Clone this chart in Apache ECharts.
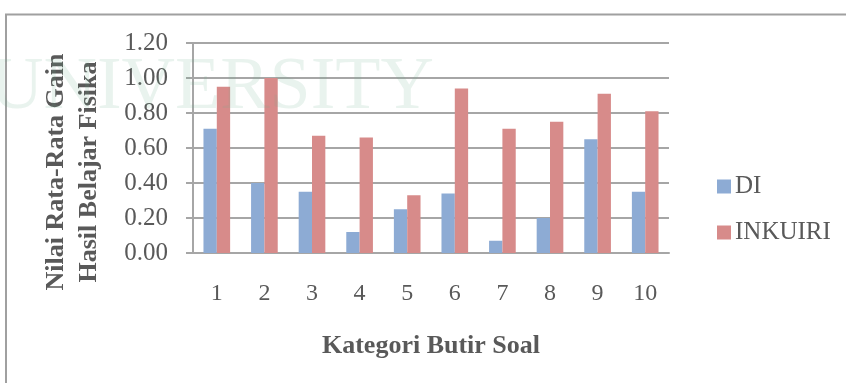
<!DOCTYPE html>
<html>
<head>
<meta charset="utf-8">
<script src="https://cdn.jsdelivr.net/npm/echarts@6/dist/echarts.min.js"></script>
<style>
  html, body { margin: 0; padding: 0; background: #fff; }
  #chart { width: 846px; height: 383px; }
</style>
</head>
<body>
<div id="chart"></div>
<script>
// Item categories (butir soal) and mean gain per learning model
const categories = ['1', '2', '3', '4', '5', '6', '7', '8', '9', '10'];
const seriesNames = ['DI', 'INKUIRI'];
const diValues = [0.71, 0.40, 0.35, 0.12, 0.25, 0.34, 0.07, 0.20, 0.65, 0.35];
const inkuiriValues = [0.95, 1.00, 0.67, 0.66, 0.33, 0.94, 0.71, 0.75, 0.91, 0.81];

const yTitle = 'Nilai Rata-Rata Gain\nHasil Belajar Fisika';
const xTitle = 'Kategori Butir Soal';

const serif = '"Liberation Serif", "Times New Roman", serif';
const textGray = '#595959';
const lineGray = '#A6A6A6';
const stampFill = 'rgba(110, 175, 140, 0.15)';

const chart = echarts.init(document.getElementById('chart'), null, { renderer: 'canvas' });

chart.setOption({
  animation: false,
  backgroundColor: '#ffffff',
  textStyle: { fontFamily: serif },
  grid: { left: 193, top: 43, width: 476, height: 210, containLabel: false },
  legend: {
    orient: 'vertical',
    left: 712,
    top: 169,
    itemWidth: 14,
    itemHeight: 14,
    itemGap: 21,
    icon: 'rect',
    data: seriesNames,
    textStyle: { fontFamily: serif, fontSize: 25, color: textGray, lineHeight: 24, padding: [0, 0, 0, -1] }
  },
  xAxis: {
    type: 'category',
    data: categories,
    boundaryGap: true,
    axisLine: { show: true, lineStyle: { color: lineGray, width: 2 } },
    axisTick: { show: false },
    axisLabel: { fontFamily: serif, fontSize: 24, color: textGray, margin: 29 },
    name: xTitle,
    nameLocation: 'middle',
    nameGap: 80,
    nameTextStyle: { fontFamily: serif, fontSize: 26, fontWeight: 'bold', color: textGray }
  },
  yAxis: {
    type: 'value',
    min: 0,
    max: 1.2,
    interval: 0.2,
    axisLine: { show: true, lineStyle: { color: lineGray, width: 2 } },
    axisTick: { show: true, length: 7, lineStyle: { color: lineGray, width: 2 } },
    splitLine: { show: true, lineStyle: { color: lineGray, width: 2 } },
    axisLabel: {
      fontFamily: serif, fontSize: 25, color: textGray, margin: 25,
      formatter: v => v.toFixed(2)
    },
    name: yTitle,
    nameLocation: 'middle',
    nameRotate: 90,
    nameGap: 87,
    nameTextStyle: {
      fontFamily: serif, fontSize: 26, fontWeight: 'bold', color: textGray,
      lineHeight: 33, align: 'center', padding: [0, 48, 0, 0]
    }
  },
  series: [
    {
      name: seriesNames[0],
      type: 'bar',
      data: diValues,
      barGap: '0%',
      barCategoryGap: '44%',
      itemStyle: { color: '#8DABD4' }
    },
    {
      name: seriesNames[1],
      type: 'bar',
      data: inkuiriValues,
      barGap: '0%',
      barCategoryGap: '44%',
      itemStyle: { color: '#D78B8A' }
    }
  ],
  graphic: [
    {
      // outer chart frame
      type: 'rect',
      z: 0,
      shape: { x: 6, y: 14.5, width: 900, height: 400 },
      style: { fill: 'none', stroke: '#A0A0A0', lineWidth: 2 }
    },
    {
      // faint background stamp
      type: 'text',
      z: 100,
      silent: true,
      x: -10,
      y: 52,
      style: {
        text: 'UNIVERSITY',
        font: 'normal 74px "Liberation Serif", serif',
        fill: stampFill
      }
    }
  ]
});
</script>
</body>
</html>
